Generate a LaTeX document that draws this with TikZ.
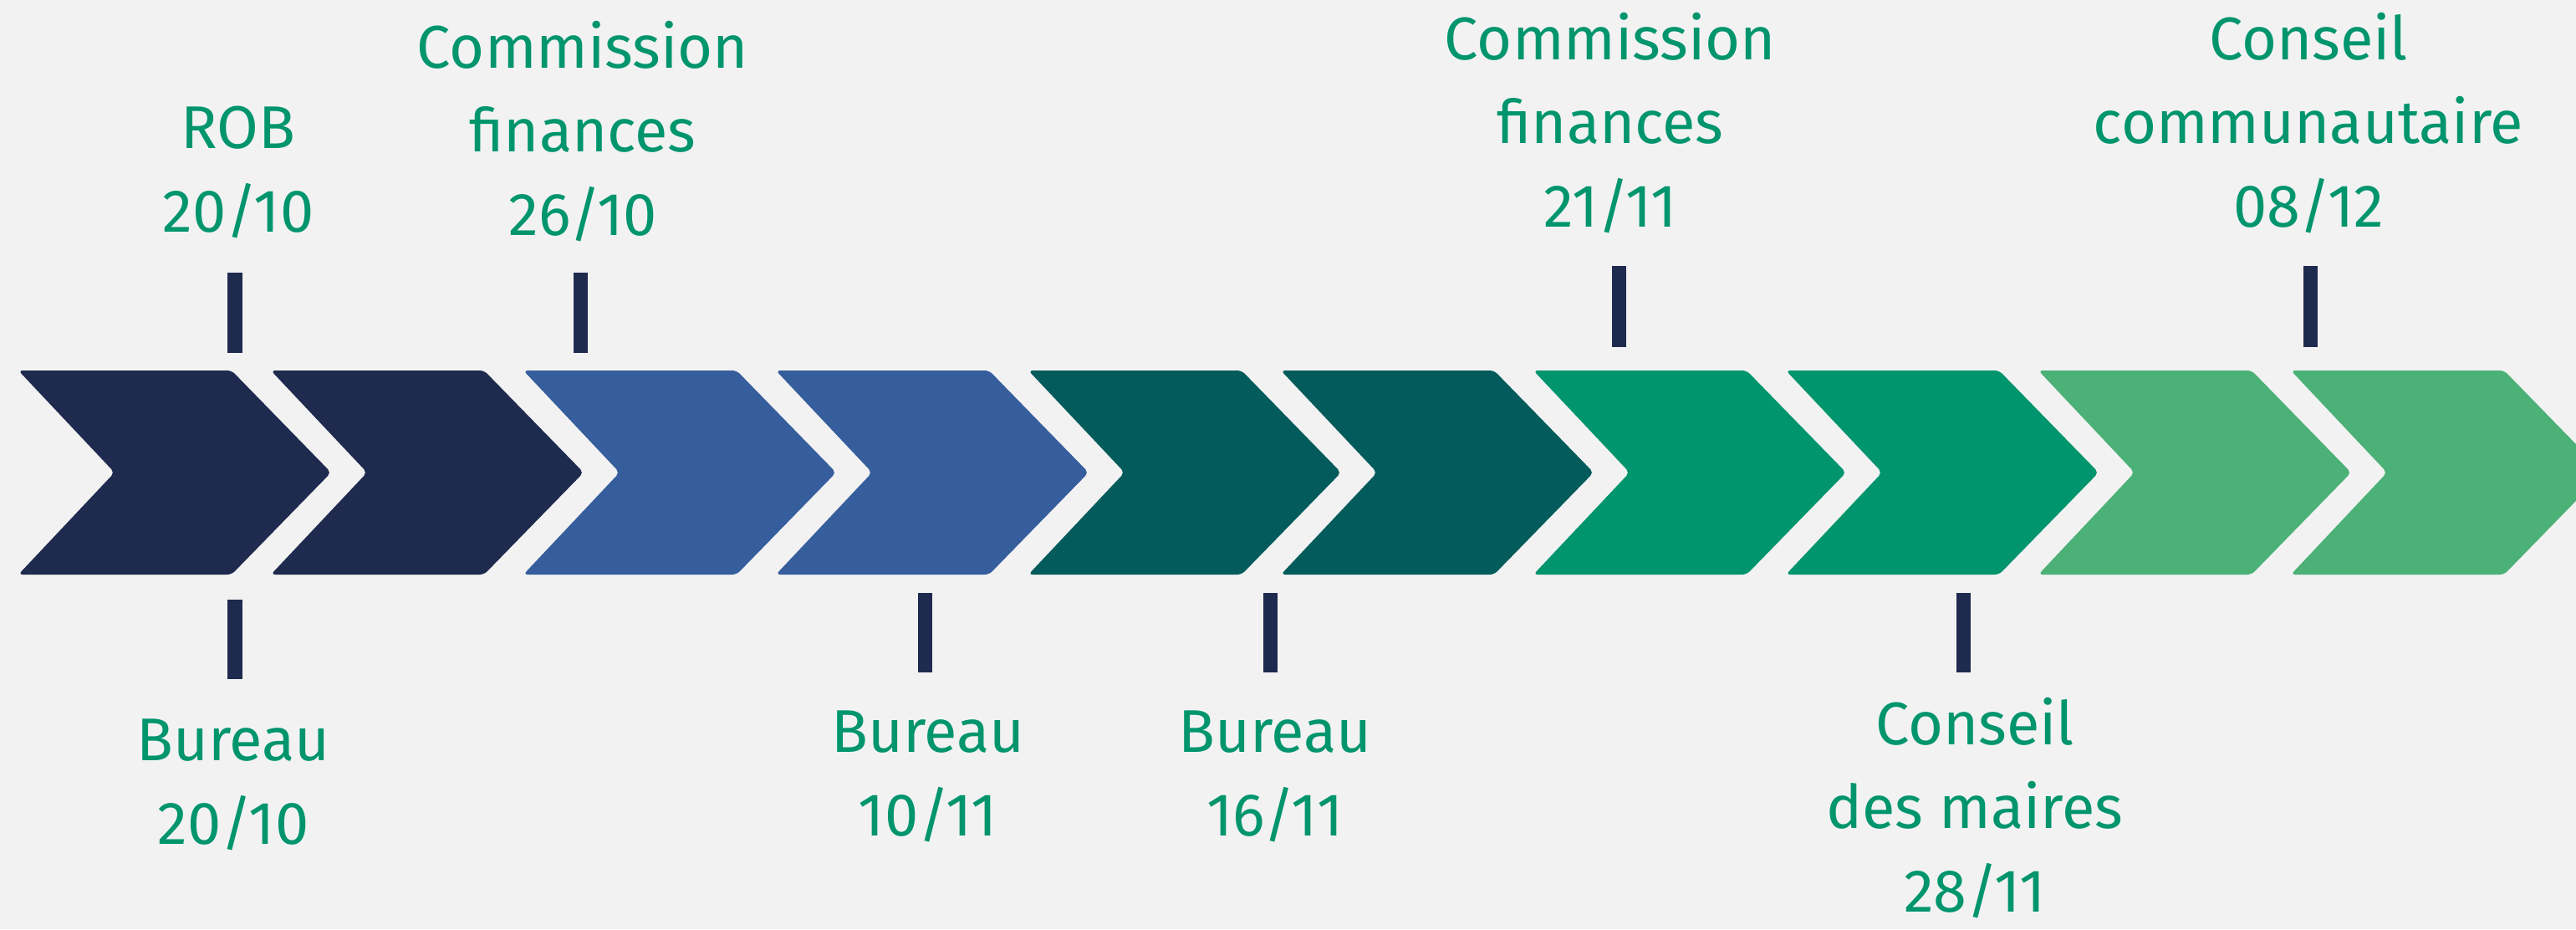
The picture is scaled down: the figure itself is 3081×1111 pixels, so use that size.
\documentclass[tikz,border=0pt]{standalone}
\usepackage{fontspec}
\setmainfont{Fira Sans}
\definecolor{fond}{HTML}{F2F2F2}
\definecolor{marine}{HTML}{1F2A4F}
\definecolor{bleu}{HTML}{365E9D}
\definecolor{sarcelle}{HTML}{035B5C}
\definecolor{vert}{HTML}{00956D}
\definecolor{vertclair}{HTML}{4BB177}
\tikzset{
  etiq/.style={align=center, text=vert, inner sep=0pt,
    font=\fontsize{20.5pt}{28.45pt}\selectfont},
  trait/.style={draw=marine, line width=0.17cm},
}
\begin{document}
\begin{tikzpicture}[x=0.01cm,y=-0.01cm]
  \fill[fond] (0,0) rectangle (3081,1111);
  \useasboundingbox (0,0) rectangle (3081,1111);
  \clip (0,0) rectangle (3081,1111);
  % chevrons
  \foreach \i/\c in {0/marine,1/marine,2/bleu,3/bleu,4/sarcelle,5/sarcelle,
                     6/vert,7/vert,8/vertclair,9/vertclair}
    \fill[\c, rounded corners=1.5pt] ({22+302*\i},443) -- ++(255,0) -- ++(119,122)
      -- ++(-119,122) -- ++(-255,0) -- ++(115,-122) -- cycle;
  % dates au-dessus
  \node[etiq] (rob) at (285,206) {ROB\\20/10};
  \node[etiq] (cfa) at (697,157) {Commission\\finances\\26/10};
  \node[etiq] (cfb) at (1926,147) {Commission\\finances\\21/11};
  \node[etiq] (cc) at (2761,147) {Conseil\\communautaire\\08/12};
  % dates en dessous
  \node[etiq] (bua) at (279,938) {Bureau\\20/10};
  \node[etiq] (bub) at (1110,928) {Bureau\\10/11};
  \node[etiq] (buc) at (1525,928) {Bureau\\16/11};
  \node[etiq] (cdm) at (2362,966) {Conseil\\des maires\\28/11};
  % traits
  \draw[trait] (281,326) -- (281,422);
  \draw[trait] (694,326) -- (694,422);
  \draw[trait] (1936,318) -- (1936,415);
  \draw[trait] (2763,318) -- (2763,415);
  \draw[trait] (281,717) -- (281,812);
  \draw[trait] (1106,709) -- (1106,804);
  \draw[trait] (1519,709) -- (1519,804);
  \draw[trait] (2348,709) -- (2348,804);
\end{tikzpicture}
\end{document}
